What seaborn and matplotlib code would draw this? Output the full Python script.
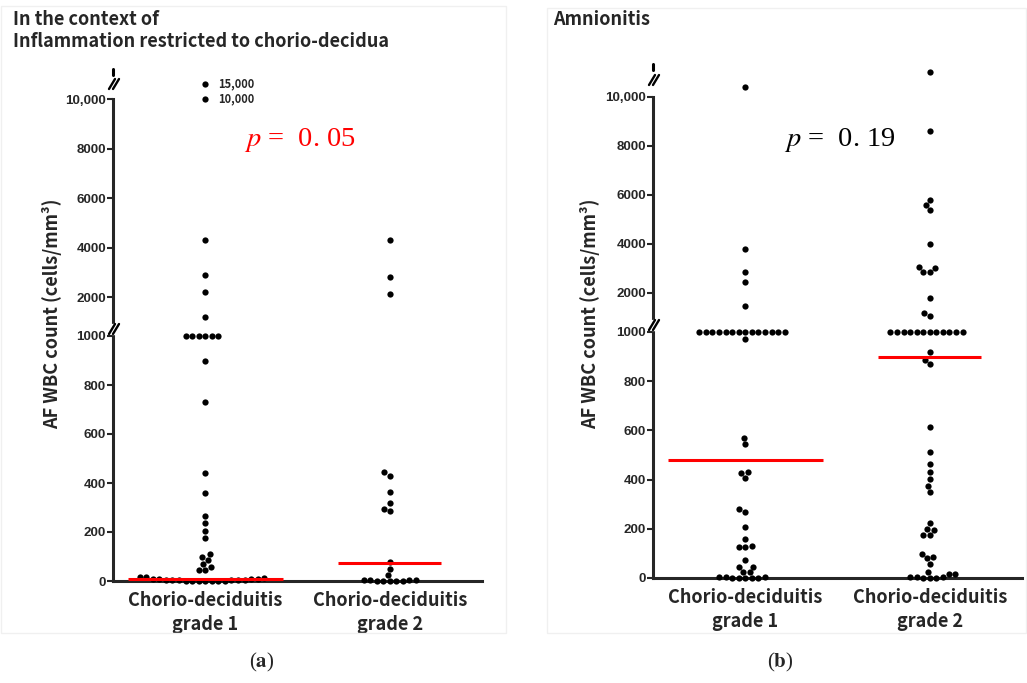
import warnings
import pandas as pd
import matplotlib
matplotlib.use("Agg")
import matplotlib.pyplot as plt
from matplotlib.lines import Line2D
from matplotlib.patches import Rectangle
import seaborn as sns

warnings.filterwarnings("ignore")

# --- Figure geometry (pixels) ---
W, H = 1027, 683

# --- Data ---
groups = ["Chorio-deciduitis\ngrade 1", "Chorio-deciduitis\ngrade 2"]

# (a) inflammation restricted to chorio-decidua
a_grade1 = [15000, 10000, 4300, 2900, 2200, 1200,
            1000, 1000, 1000, 1000, 1000, 1000,
            900, 730, 440, 360, 265, 237, 204, 176, 110, 98, 86, 69, 57, 45, 45, 16, 16,
            12, 10, 10, 8, 8, 6, 5, 5, 4, 4, 3, 2, 2, 1, 1, 0, 0, 0]
a_grade2 = [4300, 2800, 2150, 445, 430, 365, 320, 295, 285, 78, 50, 25,
            6, 5, 4, 3, 2, 1, 0, 0, 0]
a_medians = [8, 75]

# (b) amnionitis
b_grade1 = [10400, 3800, 2850, 2450, 1450,
            1000, 1000, 1000, 1000, 1000, 1000, 1000, 1000, 1000, 1000, 1000, 1000, 1000, 1000,
            970, 570, 545, 430, 425, 407, 280, 268, 207, 159, 130, 126, 126, 73, 45, 45, 24, 24,
            5, 4, 3, 2, 1, 0, 0, 0]
b_grade2 = [11000, 8600, 5800, 5600, 5400, 4000, 3060, 3020, 2860, 2860, 1800, 1180, 1060,
            1000, 1000, 1000, 1000, 1000, 1000, 1000, 1000, 1000, 1000, 1000, 1000,
            919, 886, 870, 614, 512, 463, 431, 402, 374, 350, 224, 200, 195, 175, 175,
            98, 85, 80, 57, 24, 16, 16, 5, 4, 3, 2, 1, 0]
b_medians = [480, 900]

median_halfwidth = [0.42, 0.28]

lower_ticks = [0, 200, 400, 600, 800, 1000]
upper_ticks = [2000, 4000, 6000, 8000, 10000]
upper_ticklabels = ["2000", "4000", "6000", "8000", "10,000"]

TEXT_FONT = ["Noto Sans CJK KR", "DejaVu Sans"]
TICK_FONT = ["Liberation Sans", "DejaVu Sans"]

sns.set_style("ticks")
plt.rcParams["font.family"] = TEXT_FONT
plt.rcParams["mathtext.fontset"] = "stix"


def frac(x0, y0, x1, y1):
    # pixel box (left, top, right, bottom) -> figure rect
    return [x0 / W, 1 - y1 / H, (x1 - x0) / W, (y1 - y0) / H]


def fig_line(fig, xs, ys, lw=1.7, zorder=6):
    fig.add_artist(Line2D([x / W for x in xs], [1 - y / H for y in ys],
                          transform=fig.transFigure, color="black", lw=lw, zorder=zorder))


def break_mark(fig, x, y):
    # white gap then the "//" sign across the y axis
    fig.add_artist(Rectangle(((x - 2) / W, 1 - (y + 5) / H), 5 / W, 10 / H,
                             transform=fig.transFigure, color="white", zorder=5))
    for dx in (-2, 2):
        fig_line(fig, [x + dx - 3, x + dx + 3], [y + 5, y - 5])


def style_axis(ax, ticks, labels, bounds=None):
    for s in ["top", "right"]:
        ax.spines[s].set_visible(False)
    ax.spines["left"].set_linewidth(2.2)
    ax.spines["bottom"].set_linewidth(2.2)
    if bounds is not None:
        ax.spines["left"].set_bounds(*bounds)
    ax.set_yticks(ticks)
    ax.set_yticklabels(labels, fontfamily=TICK_FONT, fontweight="bold", fontsize=9.6)
    ax.tick_params(axis="y", direction="out", length=4, width=1.5, pad=1)
    ax.set_xlabel("")
    ax.set_ylabel("")


def swarm(ax, df, lo, hi, ylim):
    sub = df[(df["value"] > lo) & (df["value"] <= hi)]
    sns.swarmplot(data=sub, x="group", y="value", order=groups, color="black",
                  size=4.5, linewidth=0, ax=ax, clip_on=False, warn_thresh=1)
    ax.set_xlim(-0.5, 1.5)
    ax.set_ylim(*ylim)


def draw_panel(fig, df, medians, x0, x1, lower_box, upper_box, upper_ylim, top_box=None):
    ax_lo = fig.add_axes(frac(x0, lower_box[0], x1, lower_box[1]))
    swarm(ax_lo, df, -1, 1000, (0, 1000))
    style_axis(ax_lo, lower_ticks, [str(t) for t in lower_ticks])
    ax_lo.set_xticks([0, 1])
    ax_lo.set_xticklabels(groups, fontsize=13, fontweight="bold", linespacing=1.35)
    ax_lo.tick_params(axis="x", length=0, pad=7)
    ax_lo.hlines(medians, [i - w for i, w in enumerate(median_halfwidth)],
                 [i + w for i, w in enumerate(median_halfwidth)],
                 color="red", lw=2.2, zorder=4)

    ax_up = fig.add_axes(frac(x0, upper_box[0], x1, upper_box[1]))
    swarm(ax_up, df, 1000, upper_ylim[1] if top_box is None else 10000, upper_ylim)
    style_axis(ax_up, upper_ticks, upper_ticklabels, bounds=(upper_ylim[0], 10000))
    ax_up.spines["bottom"].set_visible(False)
    ax_up.set_xticks([])

    ax_top = None
    if top_box is not None:
        ax_top = fig.add_axes(frac(x0, top_box[0], x1, top_box[1]))
        swarm(ax_top, df, 10000, 1e9, (14000, 16000))
        ax_top.axis("off")
    for ax in (ax_lo, ax_up):
        ax.patch.set_alpha(0)
    return ax_lo, ax_up, ax_top


def long_df(g1, g2):
    return pd.DataFrame({"group": [groups[0]] * len(g1) + [groups[1]] * len(g2),
                         "value": g1 + g2})


fig = plt.figure(figsize=(W / 100, H / 100), dpi=100)

# faint panel frames
fig.add_artist(Rectangle((1 / W, 1 - 633 / H), 505 / W, 627 / H, transform=fig.transFigure,
                         fill=False, ec="#f0f0f0", lw=1))
fig.add_artist(Rectangle((547 / W, 1 - 633 / H), 479 / W, 625 / H, transform=fig.transFigure,
                         fill=False, ec="#f0f0f0", lw=1))

# panel (a)
df_a = long_df(a_grade1, a_grade2)
a_lo, a_up, a_top = draw_panel(fig, df_a, a_medians, 113, 482, (336, 581), (99, 322),
                               (1000, 10000), top_box=(76, 92))
a_top.text(0.07, 15000, "15,000", fontsize=8, fontweight="bold", va="center")
a_up.text(0.07, 10000, "10,000", fontsize=8, fontweight="bold", va="center")
break_mark(fig, 114, 329)
break_mark(fig, 114, 84)
fig_line(fig, [113, 113], [69, 75], lw=2.2)

# panel (b)
df_b = long_df(b_grade1, b_grade2)
b_lo, b_up, _ = draw_panel(fig, df_b, b_medians, 653, 1022, (332, 578), (65, 317.5),
                           (1000, 11300))
break_mark(fig, 654, 325)
break_mark(fig, 654, 80)
fig_line(fig, [653, 653], [64, 70], lw=2.2)

# axis titles
for x in (52, 590):
    fig.text(x / W, 1 - 314 / H, "AF WBC count (cells/mm³)", rotation=90, ha="center",
             va="center", fontsize=13, fontweight="bold")

# panel headings
fig.text(13 / W, 1 - 10 / H, "In the context of", fontsize=13, fontweight="bold", va="top")
fig.text(13 / W, 1 - 32 / H, "Inflammation restricted to chorio-decidua", fontsize=13,
         fontweight="bold", va="top")
fig.text(553 / W, 1 - 10 / H, "Amnionitis", fontsize=13, fontweight="bold", va="top")

# p-values
fig.text(300 / W, 1 - 140 / H, r"$p$ =  0. 05", color="red", fontsize=20.5,
         family=["Liberation Serif"], ha="center", va="center")
fig.text(840 / W, 1 - 140 / H, r"$p$ =  0. 19", color="black", fontsize=20.5,
         family=["Liberation Serif"], ha="center", va="center")

# sub-figure letters
fig.text(262 / W, 1 - 662 / H, r"($\mathbf{a}$)", fontsize=15, family=["Liberation Serif"],
         ha="center", va="center")
fig.text(780 / W, 1 - 662 / H, r"($\mathbf{b}$)", fontsize=15, family=["Liberation Serif"],
         ha="center", va="center")

fig.savefig("out.png", dpi=100)
